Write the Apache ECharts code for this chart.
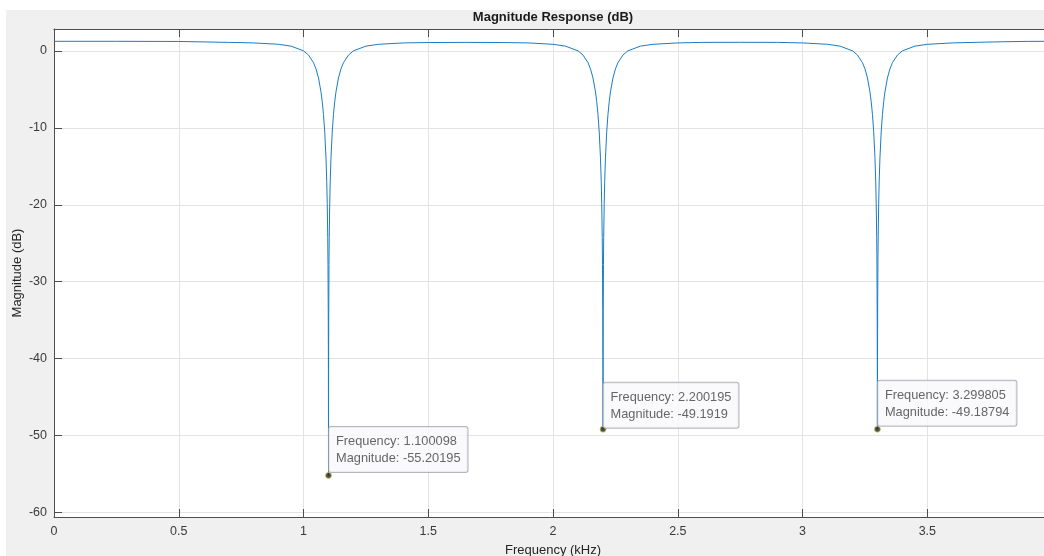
<!DOCTYPE html>
<html>
<head>
<meta charset="utf-8">
<script src="https://cdn.jsdelivr.net/npm/echarts@6/dist/echarts.min.js"></script>
<style>
html,body{margin:0;padding:0;background:#fff;}
#chart{width:1044px;height:556px;}
</style>
</head>
<body>
<div id="chart"></div>
<script>
// Frequency (kHz) samples
var freqKHz = [
  0, 0.25, 0.5, 0.7, 0.8, 0.9, 0.95, 1.0, 1.02, 1.04, 1.05, 1.06, 1.07, 1.075, 1.08, 1.085, 1.09, 1.093, 1.095, 1.097, 1.098, 1.099, 1.0996,
  1.100098,
  1.1006, 1.101, 1.102, 1.103, 1.105, 1.107, 1.11, 1.115, 1.12, 1.125, 1.13, 1.14, 1.15, 1.16, 1.18, 1.2, 1.25, 1.3, 1.4,
  1.5, 1.65, 1.8, 1.9, 2.0, 2.05, 2.1, 2.12, 2.14, 2.15, 2.16, 2.17, 2.175, 2.18, 2.185, 2.19, 2.193, 2.195, 2.197, 2.198, 2.199, 2.1997,
  2.200195,
  2.2007, 2.201, 2.202, 2.203, 2.205, 2.207, 2.21, 2.215, 2.22, 2.225, 2.23, 2.24, 2.25, 2.26, 2.28, 2.3, 2.35, 2.4, 2.5,
  2.6, 2.75, 2.9, 3.0, 3.1, 3.15, 3.2, 3.22, 3.24, 3.25, 3.26, 3.27, 3.275, 3.28, 3.285, 3.29, 3.293, 3.295, 3.297, 3.298, 3.299, 3.2995,
  3.299805,
  3.3003, 3.301, 3.302, 3.303, 3.305, 3.307, 3.31, 3.315, 3.32, 3.325, 3.33, 3.34, 3.35, 3.36, 3.38, 3.4, 3.45, 3.5, 3.6,
  3.7, 3.8, 3.9, 3.9995
];
// Magnitude (dB) samples
var magDB = [
  1.26, 1.26, 1.24, 1.12, 1.05, 0.87, 0.63, 0.02, -0.53, -1.52, -2.33, -3.51, -5.32, -6.59, -8.26, -10.54, -13.90, -16.93, -19.82, -24.23, -27.75, -33.76, -39.7,
  -55.20195,
  -39.7, -34.5, -27.75, -24.23, -19.82, -16.93, -13.90, -10.54, -8.26, -6.59, -5.32, -3.51, -2.33, -1.52, -0.53, 0.02, 0.63, 0.87, 1.05,
  1.10, 1.12, 1.10, 1.05, 0.87, 0.63, 0.02, -0.53, -1.52, -2.33, -3.51, -5.32, -6.59, -8.26, -10.54, -13.90, -16.93, -19.82, -24.23, -27.75, -33.76, -39.7,
  -49.1919,
  -39.7, -34.5, -27.75, -24.23, -19.82, -16.93, -13.90, -10.54, -8.26, -6.59, -5.32, -3.51, -2.33, -1.52, -0.53, 0.02, 0.63, 0.87, 1.05,
  1.12, 1.13, 1.12, 1.05, 0.87, 0.63, 0.02, -0.53, -1.52, -2.33, -3.51, -5.32, -6.59, -8.26, -10.54, -13.90, -16.93, -19.82, -24.23, -27.75, -35.5, -42.0,
  -49.18794,
  -41.0, -32.5, -27.2, -24.0, -19.8, -16.9, -13.90, -10.54, -8.26, -6.59, -5.32, -3.51, -2.33, -1.52, -0.53, 0.02, 0.63, 0.87, 1.05,
  1.13, 1.20, 1.25, 1.26
];
// Data tips
var tipFreq = [1.100098, 2.200195, 3.299805];
var tipMag = [-55.20195, -49.1919, -49.18794];
var tipFreqText = ['1.100098', '2.200195', '3.299805'];
var tipMagText = ['-55.20195', '-49.1919', '-49.18794'];

var titleText = 'Magnitude Response (dB)';
var xName = 'Frequency (kHz)';
var yName = 'Magnitude (dB)';

var lineData = freqKHz.map(function (f, i) { return [f, magDB[i]]; });
var tipPos = [[4, -45], [4, -43], [4, -45]];
var tipData = tipFreq.map(function (f, i) {
  return {
    value: [f, tipMag[i]],
    label: { position: tipPos[i] },
    tipText: 'Frequency: ' + tipFreqText[i] + '\nMagnitude: ' + tipMagText[i]
  };
});

var FONT = 'Liberation Sans, Arial, Helvetica, sans-serif';
var axisColor = '#4d4d4d';
var labelColor = '#3a3a3a';
var gridColor = '#e3e3e3';

function isMult(v, step) {
  var r = v / step;
  return Math.abs(r - Math.round(r)) < 1e-6;
}

var chart = echarts.init(document.getElementById('chart'), null, { renderer: 'canvas' });
chart.setOption({
  animation: false,
  backgroundColor: '#f0f0f0',
  graphic: [
    { type: 'rect', shape: { x: 0, y: 0, width: 1044, height: 10 }, style: { fill: '#ffffff' }, silent: true },
    { type: 'rect', shape: { x: 0, y: 0, width: 6, height: 556 }, style: { fill: '#ffffff' }, silent: true },
    { type: 'text', x: 553, y: 17, style: { text: titleText, fontFamily: FONT, fontSize: 13, fontWeight: 'bold', fill: '#1a1a1a', align: 'center', verticalAlign: 'middle' }, silent: true }
  ],
  grid: { left: 54, top: 29, width: 998, height: 488, containLabel: false, outerBoundsMode: 'none',
          show: true, backgroundColor: '#ffffff', borderWidth: 0 },
  xAxis: [
    {
      type: 'value', min: 0, max: 3.9995, interval: 0.5, position: 'bottom',
      name: xName, nameLocation: 'middle', nameGap: 27,
      nameTextStyle: { fontFamily: FONT, fontSize: 13, color: '#262626' },
      axisLine: { show: true, onZero: false, lineStyle: { color: axisColor, width: 1 } },
      axisTick: { show: true, inside: true, length: 8, lineStyle: { color: axisColor } },
      axisLabel: { margin: 8, color: labelColor, fontFamily: FONT, fontSize: 12.5,
        formatter: function (v) { return isMult(v, 0.5) ? String(+v.toFixed(2)) : ''; } },
      splitLine: { show: true, lineStyle: { color: gridColor, width: 1 } }
    },
    {
      type: 'value', min: 0, max: 3.9995, interval: 0.5, position: 'top',
      axisLine: { show: true, onZero: false, lineStyle: { color: axisColor, width: 1 } },
      axisTick: { show: true, inside: true, length: 8, lineStyle: { color: axisColor } },
      axisLabel: { show: false },
      splitLine: { show: false }
    }
  ],
  yAxis: [
    {
      type: 'value', min: -60.61, max: 2.86, splitNumber: 7, position: 'left',
      name: yName, nameLocation: 'middle', nameGap: 30, nameRotate: 90, nameMoveOverlap: false,
      nameTextStyle: { fontFamily: FONT, fontSize: 13, color: '#262626' },
      axisLine: { show: true, onZero: false, lineStyle: { color: axisColor, width: 1 } },
      axisTick: { show: true, inside: true, length: 8, lineStyle: { color: axisColor } },
      axisLabel: { margin: 7, color: labelColor, fontFamily: FONT, fontSize: 12.5,
        formatter: function (v) { return isMult(v, 10) ? String(Math.round(v)) : ''; } },
      splitLine: { show: true, lineStyle: { color: gridColor, width: 1 } }
    },
    {
      type: 'value', min: -60.61, max: 2.86, splitNumber: 7, position: 'right',
      axisLine: { show: true, onZero: false, lineStyle: { color: axisColor, width: 1 } },
      axisTick: { show: true, inside: true, length: 8, lineStyle: { color: axisColor } },
      axisLabel: { show: false },
      splitLine: { show: false }
    }
  ],
  series: [
    {
      type: 'line', xAxisIndex: 0, yAxisIndex: 0, data: lineData,
      showSymbol: false, symbol: 'none', sampling: null, smooth: false, clip: true,
      lineStyle: { color: '#1a7cc6', width: 1 }, z: 3
    },
    {
      type: 'scatter', xAxisIndex: 0, yAxisIndex: 0, data: tipData,
      symbol: 'circle', symbolSize: 6, z: 5,
      itemStyle: { color: '#222222', borderColor: '#d8cf60', borderWidth: 1 },
      label: {
        show: true, align: 'left', verticalAlign: 'top',
        formatter: function (p) { return p.data.tipText; },
        fontFamily: FONT, fontSize: 12.8, lineHeight: 17, color: '#404040',
        backgroundColor: '#f9f9fd', borderColor: '#a3a3ab', borderWidth: 1, borderRadius: 2,
        padding: [6, 7, 5, 7]
      }
    }
  ]
});
</script>
</body>
</html>
